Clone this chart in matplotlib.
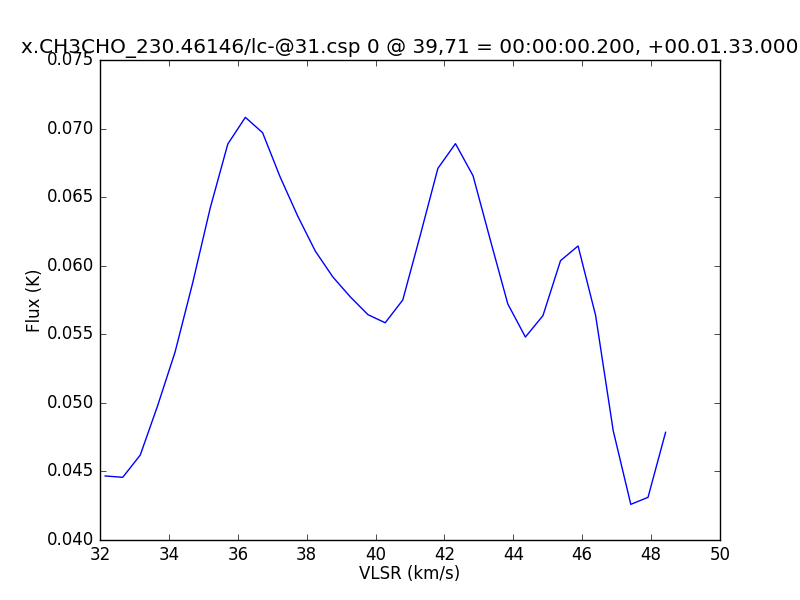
import matplotlib
matplotlib.use('Agg')
import matplotlib.pyplot as plt

# spectrum
vlsr = [32.15, 32.66, 33.17, 33.67, 34.18, 34.69, 35.20, 35.71, 36.22, 36.72,
        37.23, 37.74, 38.25, 38.76, 39.27, 39.78, 40.28, 40.79, 41.30, 41.81,
        42.32, 42.83, 43.34, 43.84, 44.35, 44.86, 45.37, 45.88, 46.39, 46.90,
        47.41, 47.91, 48.42]
flux = [0.04467, 0.04457, 0.04620, 0.04977, 0.05371, 0.05874, 0.06421, 0.06887,
        0.07082, 0.06970, 0.06647, 0.06362, 0.06107, 0.05918, 0.05772, 0.05643,
        0.05584, 0.05750, 0.06224, 0.06710, 0.06890, 0.06656, 0.06180, 0.05721,
        0.05480, 0.05636, 0.06037, 0.06144, 0.05636, 0.04797, 0.04260, 0.04311,
        0.04785]

title = 'x.CH3CHO_230.46146/lc-@31.csp 0 @ 39,71 = 00:00:00.200, +00.01.33.000'

plt.style.use('classic')
plt.rcParams['figure.facecolor'] = 'white'
plt.rcParams['savefig.facecolor'] = 'white'

fig = plt.figure(figsize=(8, 6), dpi=100)
ax = fig.add_axes([0.125, 0.1, 0.775, 0.8])
ax.plot(vlsr, flux, color='b', linewidth=1)
ax.set_xlim(32, 50)
ax.set_ylim(0.040, 0.075)
ax.set_xlabel('VLSR (km/s)', labelpad=1)
ax.set_ylabel('Flux (K)', labelpad=2)
ax.set_title(title)

fig.savefig('out.png', dpi=100)
